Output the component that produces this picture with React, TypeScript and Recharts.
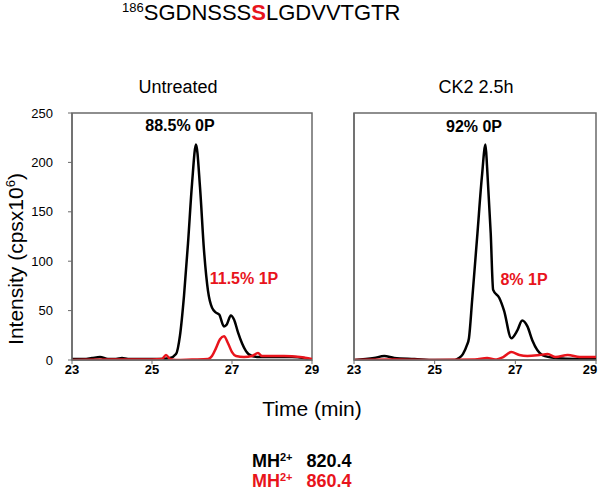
import React from 'react'
import { LineChart, Line, XAxis, YAxis, ReferenceArea } from 'recharts'

const RED = '#e8141c'
const FRAME = '#6a6a6a'
const FONT = '"Liberation Sans", Arial, Helvetica, sans-serif'

const xTicks = [23, 25, 27, 29]
const yTicks = [0, 50, 100, 150, 200, 250]

// Untreated, unphosphorylated (0P)
const untreatedTime0P = [23, 23.3, 23.5, 23.7, 23.9, 24.1, 24.25, 24.4, 24.8, 25.2, 25.45, 25.6, 25.7, 25.8, 25.9, 26.0, 26.1, 26.2, 26.3, 26.4, 26.5, 26.6, 26.68, 26.8, 26.87, 26.97, 27.05, 27.15, 27.25, 27.35, 27.5, 27.7, 28.0, 28.5, 28.8, 29]
const untreated0P = [1, 1, 2, 3, 1, 1, 2, 1, 1, 1, 2, 6, 25, 65, 118, 178, 218, 175, 111, 70, 53, 48, 46, 34, 36, 45, 41, 28, 17, 9, 4, 3, 3, 3, 2, 0]

// Untreated, phosphorylated (1P)
const untreatedTime1P = [23, 24, 25, 25.25, 25.35, 25.45, 25.6, 26.0, 26.4, 26.5, 26.6, 26.7, 26.8, 26.9, 27.0, 27.1, 27.3, 27.5, 27.65, 27.75, 27.9, 28.3, 28.7, 29]
const untreated1P = [0, 0.5, 0.5, 1, 5, 1, 0, 0.5, 1, 4, 12, 21, 24, 17, 8, 4, 3, 4, 7, 4, 4, 4, 3, 1]

// CK2 2.5h, 0P
const ck2Time0P = [23, 23.5, 23.75, 24, 24.5, 25, 25.5, 25.6, 25.7, 25.8, 25.85, 25.93, 26.06, 26.17, 26.26, 26.3, 26.39, 26.45, 26.6, 26.72, 26.9, 27.05, 27.17, 27.3, 27.42, 27.67, 28, 28.5, 29]
const ck20P = [0, 2, 4, 2, 1, 0, 0, 2, 6, 15, 22, 61, 128, 185, 218, 195, 128, 71, 63, 50, 22, 30, 40, 34, 20, 5, 2, 1, 1]

// CK2 2.5h, 1P
const ck2Time1P = [23, 24, 25, 26, 26.3, 26.5, 26.7, 26.9, 27.1, 27.3, 27.6, 27.8, 28.0, 28.3, 28.6, 29]
const ck21P = [0, 0.5, 0, 0.5, 2, 0.5, 3, 8, 5, 4, 5, 6, 3, 5, 3, 3]

const toPoints = (t: number[], v: number[]) => t.map((time, i) => ({ time, value: v[i] }))

type PanelProps = {
  width: number
  yWidth: number
  right: number
  showYLabels: boolean
  lastTickShift: number
  black: { time: number; value: number }[]
  red: { time: number; value: number }[]
}

function Panel({ width, yWidth, right, showYLabels, lastTickShift, black, red }: PanelProps) {
  const renderXTick = (props: any) => {
    const v = props.payload.value
    const dx = v === 29 ? lastTickShift : 0
    return (
      <text x={props.x + dx} y={props.y} dy="0.71em" textAnchor="middle" fill="#000" fontSize={13} fontWeight={700} fontFamily={FONT}>
        {v}
      </text>
    )
  }

  return (
    <LineChart width={width} height={400} margin={{ top: 113, right, bottom: 10, left: 0 }}>
      <XAxis
        type="number"
        dataKey="time"
        domain={[23, 29]}
        ticks={xTicks}
        allowDataOverflow
        height={30}
        interval={0}
        tickSize={4}
        tickMargin={1}
        axisLine={{ stroke: FRAME, strokeWidth: 1.5 }}
        tickLine={{ stroke: FRAME }}
        tick={renderXTick}
      />
      <YAxis
        type="number"
        domain={[0, 250]}
        ticks={yTicks}
        allowDataOverflow
        width={yWidth}
        interval={0}
        tickSize={4}
        tickMargin={15}
        axisLine={{ stroke: FRAME, strokeWidth: 1.5 }}
        tickLine={{ stroke: FRAME }}
        tick={showYLabels ? { fill: '#000', fontSize: 13, fontFamily: FONT } : false}
      />
      <ReferenceArea x1={23} x2={29} y1={0} y2={250} fill="none" stroke={FRAME} strokeWidth={1.5} ifOverflow="visible" />
      <Line data={black} dataKey="value" type="monotone" stroke="#000" strokeWidth={2.5} dot={false} isAnimationActive={false} />
      <Line data={red} dataKey="value" type="monotone" stroke={RED} strokeWidth={2.5} dot={false} isAnimationActive={false} />
    </LineChart>
  )
}

function Txt({ x, y, size, bold, color, children }: { x: number; y: number; size: number; bold?: boolean; color?: string; children: React.ReactNode }) {
  return (
    <div
      style={{
        position: 'absolute',
        left: x,
        top: y,
        transform: 'translate(-50%, -50%)',
        fontSize: size,
        fontWeight: bold ? 700 : 400,
        color: color || '#000',
        lineHeight: 1,
        whiteSpace: 'nowrap'
      }}
    >
      {children}
    </div>
  )
}

export default function App() {
  return (
    <div style={{ position: 'absolute', left: 0, top: 0, width: 600, height: 492, background: '#fff', fontFamily: FONT, overflow: 'hidden' }}>
      <div style={{ position: 'absolute', left: 122, top: 2, fontSize: 22, lineHeight: 1, whiteSpace: 'nowrap' }}>
        <span style={{ fontSize: 13, position: 'relative', top: -8 }}>186</span>
        SGDNSSS<span style={{ color: RED, fontWeight: 700 }}>S</span>LGDVVTGTR
      </div>

      <Txt x={178} y={87} size={18}>Untreated</Txt>
      <Txt x={476} y={87} size={18}>CK2 2.5h</Txt>

      <div style={{ position: 'absolute', left: 0, top: 0 }}>
        <Panel width={330} yWidth={72} right={18} showYLabels lastTickShift={0} black={toPoints(untreatedTime0P, untreated0P)} red={toPoints(untreatedTime1P, untreated1P)} />
      </div>
      <div style={{ position: 'absolute', left: 330, top: 0 }}>
        <Panel width={270} yWidth={24} right={4} showYLabels={false} lastTickShift={-6} black={toPoints(ck2Time0P, ck20P)} red={toPoints(ck2Time1P, ck21P)} />
      </div>

      <Txt x={180} y={126} size={16} bold>88.5% 0P</Txt>
      <Txt x={244} y={279} size={16} bold color={RED}>11.5% 1P</Txt>
      <Txt x={474} y={127} size={16} bold>92% 0P</Txt>
      <Txt x={524} y={280} size={16} bold color={RED}>8% 1P</Txt>

      <div
        style={{
          position: 'absolute',
          left: 15,
          top: 259,
          transform: 'translate(-50%, -50%) rotate(-90deg)',
          fontSize: 21,
          lineHeight: 1,
          whiteSpace: 'nowrap'
        }}
      >
        Intensity (cpsx10<span style={{ fontSize: 13, position: 'relative', top: -8 }}>6</span>)
      </div>

      <Txt x={312} y={408} size={21}>Time (min)</Txt>

      <div style={{ position: 'absolute', left: 252, top: 452, fontSize: 18, fontWeight: 700, lineHeight: 1, whiteSpace: 'nowrap' }}>
        MH<span style={{ fontSize: 11, position: 'relative', top: -6 }}>2+</span>
        <span style={{ marginLeft: 14 }}>820.4</span>
      </div>
      <div style={{ position: 'absolute', left: 252, top: 472, fontSize: 18, fontWeight: 700, lineHeight: 1, whiteSpace: 'nowrap', color: RED }}>
        MH<span style={{ fontSize: 11, position: 'relative', top: -6 }}>2+</span>
        <span style={{ marginLeft: 14 }}>860.4</span>
      </div>
    </div>
  )
}
